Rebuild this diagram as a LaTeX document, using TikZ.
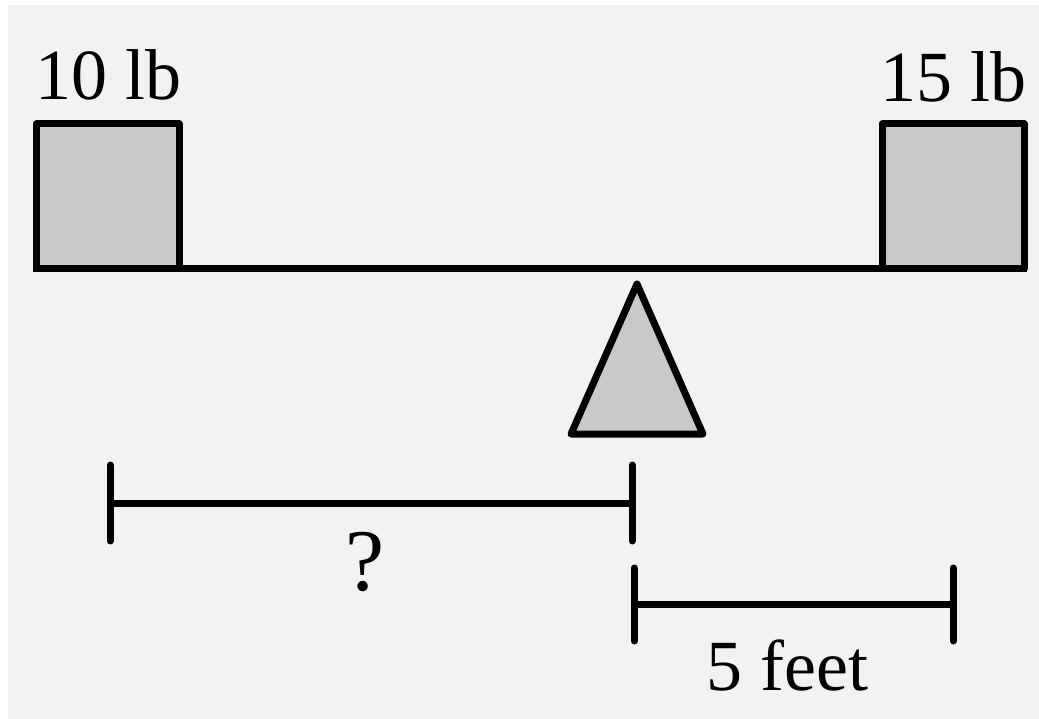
\documentclass[tikz,border=0pt]{standalone}
\usepackage{fontspec}
\setmainfont{Liberation Serif}
\definecolor{bg}{HTML}{F2F2F2}
\definecolor{boxfill}{HTML}{C9C9C9}
\tikzset{
  thick line/.style={line width=7pt, draw=black, line join=round},
  weight/.style={thick line, fill=boxfill},
  tick/.style={line width=7pt, draw=black, line cap=round},
  label text/.style={font=\fontsize{72}{80}\selectfont, inner sep=0pt, anchor=base west},
}
\begin{document}
\begin{tikzpicture}[x=1pt,y=-1pt]
\useasboundingbox (0,0) rectangle (1039,719);
\fill[white] (0,0) rectangle (1039,719);
\fill[bg] (8,5) rectangle (1040,720);
% weights
\draw[weight] (36,269) rectangle (179,124);
\draw[weight] (882,269) rectangle (1024,124);
% beam
\coordinate (beamL) at (33,269);
\coordinate (beamR) at (1027,269);
\draw[thick line] (beamL) -- (beamR);
% fulcrum
\coordinate (apex) at (637,284);
\coordinate (baseL) at (571,434);
\coordinate (baseR) at (703,434);
\draw[weight] (apex) -- (baseR) -- (baseL) -- cycle;
% labels
\node[label text] (w1) at (35,100) {10 lb};
\node[label text] (w2) at (880,102) {15 lb};
% unknown distance
\coordinate (qL) at (110,503);
\coordinate (qR) at (632,503);
\draw[tick] (110,465) -- (110,541);
\draw[tick] (632,465) -- (632,541);
\draw[tick, line cap=butt] (qL) -- (qR);
\node[label text, anchor=base, font=\fontsize{88}{96}\selectfont] (q) at (365,590) {?};
% known distance
\coordinate (fL) at (634,604);
\coordinate (fR) at (953,604);
\draw[tick] (634,568) -- (634,641);
\draw[tick] (953,568) -- (953,641);
\draw[tick, line cap=butt] (fL) -- (fR);
\node[label text] (f) at (706,690) {5 feet};
\end{tikzpicture}
\end{document}
